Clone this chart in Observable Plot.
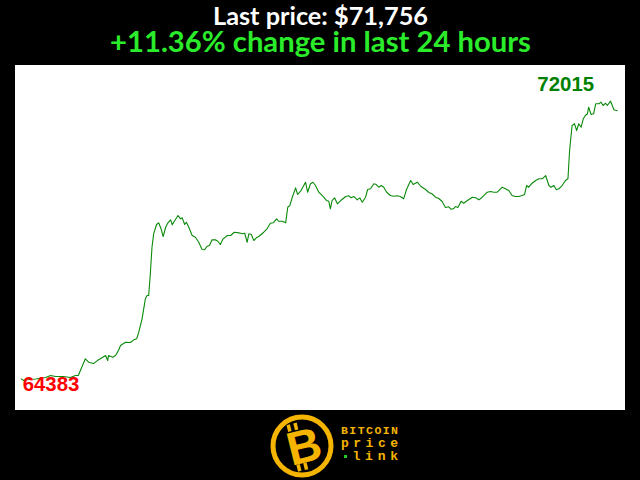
<!DOCTYPE html>
<html><head><meta charset="utf-8">
<script src="https://cdn.jsdelivr.net/npm/d3@7"></script>
<script src="https://cdn.jsdelivr.net/npm/@observablehq/plot@0.6"></script>
<style>
html,body{margin:0;padding:0;background:#000;width:640px;height:480px;overflow:hidden}
#wrap{position:relative;width:640px;height:480px}
#deco{position:absolute;left:0;top:0}
#chart{position:absolute;left:15px;top:65px}
</style></head><body>
<div id="wrap">
<svg id="deco" width="640" height="480">
  <text id="title" x="320.5" y="24.5" text-anchor="middle" fill="#ffffff" font-family="Lato, sans-serif" font-weight="bold" font-size="23">Last price: $71,756</text>
  <text id="sub" x="320.5" y="51.5" text-anchor="middle" fill="#2bec2b" font-family="Lato, sans-serif" font-weight="bold" font-size="27">+11.36% change in last 24 hours</text>
  <g id="logo">
    <circle cx="302" cy="446" r="29" fill="#000" stroke="#f5b400" stroke-width="5"/>
    <g transform="rotate(-14 302 446)" fill="#f5b400">
      <rect x="292" y="422" width="3.5" height="7"/><rect x="299" y="422" width="3.5" height="7"/>
      <rect x="292" y="463" width="3.5" height="7"/><rect x="299" y="463" width="3.5" height="7"/>
      <text x="304" y="463" text-anchor="middle" font-family="Liberation Sans, sans-serif" font-weight="bold" font-size="47">B</text>
    </g>
    <text x="341" y="433.5" textLength="57" lengthAdjust="spacing" fill="#f5b400" font-family="Liberation Mono, monospace" font-weight="bold" font-size="11.5">BITCOIN</text>
    <text x="341" y="446.5" textLength="57" lengthAdjust="spacing" fill="#f5b400" font-family="Liberation Mono, monospace" font-weight="bold" font-size="13">price</text>
    <rect x="344" y="455" width="3" height="3" fill="#22cc22"/>
    <text x="352.5" y="460" textLength="45.5" lengthAdjust="spacing" fill="#f5b400" font-family="Liberation Mono, monospace" font-weight="bold" font-size="13">link</text>
  </g>
</svg>
<div id="chart"></div>
</div>
<script>
// minutes since start of the 24h window
const minutes = [0,6,18,35,59,71,83,102,119,131,138,143,155,163,175,184,196,204,209,211,221,228,235,240,252,264,272,279,284,292,300,304,308,312,316,320,327,332,338,343,349,354,361,365,370,379,385,389,395,399,405,413,421,429,437,443,449,455,461,469,475,481,488,498,506,515,526,534,540,546,550,556,562,568,574,586,594,602,609,617,622,631,639,644,649,655,663,668,676,687,692,699,705,711,719,731,738,743,747,751,757,764,772,784,792,797,804,812,818,824,832,837,844,852,858,864,870,876,883,892,900,908,916,924,931,941,947,957,966,977,985,993,1001,1009,1017,1025,1033,1039,1045,1049,1055,1063,1069,1078,1090,1098,1106,1114,1126,1134,1142,1150,1154,1162,1170,1178,1186,1194,1202,1210,1216,1221,1226,1233,1243,1251,1259,1267,1275,1280,1287,1293,1299,1307,1315,1321,1325,1331,1337,1342,1347,1353,1358,1363,1368,1371,1377,1383,1388,1396,1401,1406,1412,1416,1424,1428,1432,1440];
// BTC price (USD)
const prices = [64428,64383,64409,64423,64464,64518,64491,64491,64464,64518,64518,64655,64975,64882,64846,64928,65010,65065,64928,65065,65018,65065,65202,65338,65428,65420,65494,65521,65702,66068,66615,66705,66705,67298,68025,68391,68645,68692,68528,68317,68571,68681,68774,68637,68735,68891,68801,68828,68645,68708,68571,68345,68298,68161,67962,67954,68052,68071,68227,68227,68189,68099,68254,68345,68345,68435,68418,68391,68407,68161,68391,68372,68208,68282,68317,68435,68528,68681,68692,68801,68735,68735,68692,69118,69164,69391,69648,69465,69574,69801,69528,69758,69801,69711,69528,69391,69301,69282,69074,69301,69375,69211,69301,69410,69430,69375,69410,69320,69375,69255,69391,69602,69621,69758,69738,69665,69711,69665,69528,69438,69419,69430,69410,69348,69602,69848,69738,69801,69684,69602,69520,69479,69391,69356,69274,69110,69129,69061,69082,69137,69110,69282,69227,69301,69391,69375,69320,69391,69528,69547,69528,69528,69574,69665,69621,69574,69438,69410,69410,69438,69465,69711,69665,69758,69848,69894,69894,69984,69711,69665,69711,69594,69621,69711,69848,69894,70668,71351,71397,71214,71397,71304,71534,71624,71671,71851,71652,71671,71944,71944,71988,71897,71960,71897,72015,71897,71780,71756];

const data = minutes.map((m, i) => ({m, p: prices[i]}));
const maxPt = data.reduce((a, b) => b.p > a.p ? b : a);
const minPt = data.reduce((a, b) => b.p < a.p ? b : a);

const chart = Plot.plot({
  width: 610,
  height: 345,
  marginLeft: 5.7,
  marginRight: 8.3,
  marginTop: 35.7,
  marginBottom: 30,
  style: {background: "#ffffff", overflow: "visible"},
  x: {domain: [0, 1440], axis: null},
  y: {domain: [minPt.p, maxPt.p], axis: null},
  marks: [
    Plot.line(data, {x: "m", y: "p", stroke: "#0a8a0a", strokeWidth: 1.1}),
    Plot.text([maxPt], {x: "m", y: "p", text: d => String(d.p), textAnchor: "end", lineAnchor: "bottom", dx: -16.5, dy: -10, fill: "#008000", fontWeight: "bold", fontSize: 20.4, fontFamily: "Liberation Sans, Arial, sans-serif"}),
    Plot.text([minPt], {x: "m", y: "p", text: d => String(d.p), textAnchor: "start", lineAnchor: "top", dx: -1, dy: -4, fill: "#ff0000", fontWeight: "bold", fontSize: 20.4, fontFamily: "Liberation Sans, Arial, sans-serif"})
  ]
});
document.getElementById("chart").appendChild(chart);

// fit title widths to the reference
function fit(id, target) {
  const el = document.getElementById(id);
  const w = el.getComputedTextLength();
  const fs = parseFloat(el.getAttribute("font-size"));
  if (w > 0) el.setAttribute("font-size", (fs * target / w).toFixed(2));
}
fit("title", 215);
fit("sub", 421);
</script>
</body></html>
